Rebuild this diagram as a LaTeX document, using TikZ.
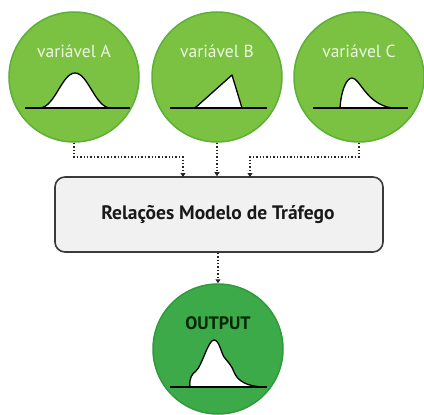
\documentclass[tikz,border=0pt]{standalone}
\usepackage{fontspec}
\setmainfont{PT Sans}
\usetikzlibrary{arrows.meta}
\definecolor{ingreen}{HTML}{7CC242}
\definecolor{inborder}{HTML}{5BB035}
\definecolor{outgreen}{HTML}{3DAA4A}
\definecolor{outborder}{HTML}{2F9A3C}
\definecolor{boxfill}{HTML}{F1F1F1}
\definecolor{boxdraw}{HTML}{3A3A3A}
\definecolor{vartext}{HTML}{EEF7E4}
\tikzset{
  invar/.style={circle, fill=ingreen, draw=inborder, line width=1.5pt, minimum size=130pt, inner sep=0pt},
  outvar/.style={circle, fill=outgreen, draw=outborder, line width=1.5pt, minimum size=130pt, inner sep=0pt},
  mainbox/.style={rectangle, rounded corners=10pt, fill=boxfill, draw=boxdraw, line width=1.6pt, minimum width=328pt, minimum height=75pt, inner sep=0pt},
  vlabel/.style={text=vartext, font=\fontsize{17.5}{17.5}\selectfont},
  conn/.style={draw=black!85, line width=1.4pt, dotted, -{Triangle[width=5pt,length=4pt]}},
  base/.style={line width=1.6pt, black},
  curve/.style={line width=1.3pt, black, fill=white, line join=round},
}
\begin{document}
\begin{tikzpicture}[x=1pt,y=-1pt]
\useasboundingbox (0,0) rectangle (424,415);
% circles
\node[invar] (A) at (74,77) {};
\node[invar] (B) at (217,77) {};
\node[invar] (C) at (359,77) {};
\node[mainbox] (M) at (219,214.5) {};
\node[outvar] (O) at (218,349) {};
% labels
\node[vlabel] (la) at (74,51) {variável A};
\node[vlabel] (lb) at (217,51) {variável B};
\node[vlabel] (lc) at (359,51) {variável C};
\node[font=\fontsize{19.5}{19.5}\selectfont\bfseries, text=black!90] (lm) at (218,215) {Relações Modelo de Tráfego};
\node[font=\fontsize{18}{18}\selectfont\bfseries, text=black!85!green] (lo) at (218,323) {OUTPUT};
% distributions
% A: gaussian
\draw[curve] (40,108) .. controls (55,107) and (62,73) .. (75,73) .. controls (88,73) and (95,107) .. (110,108) -- cycle;
\draw[base] (25,108) -- (130,108);
% B: triangle
\draw[curve] (195,108) -- (232,75) -- (242,108) -- cycle;
\draw[base] (170,108) -- (267,108);
% C: skewed
\draw[curve] (340,108) .. controls (341,92) and (346,78) .. (352,78) .. controls (360,78) and (366,104) .. (392,108) -- cycle;
\draw[base] (313,108) -- (408,108);
% Output
\draw[curve] (190,387) .. controls (189,378) and (192,374) .. (196,371)
  .. controls (202,366) and (208,340) .. (214,340)
  .. controls (219,340) and (221,352) .. (224,357)
  .. controls (228,362) and (232,366) .. (234,372)
  .. controls (238,382) and (248,386) .. (262,387) -- cycle;
\draw[base] (170,387) -- (267,387);
% connectors
\coordinate (ja) at (74,157);
\coordinate (jc) at (359,157);
\draw[conn] (A.south) -- (ja) -- (183,157) -- (183,177);
\draw[conn] (B.south) -- (B.south |- M.north);
\draw[conn] (C.south) -- (jc) -- (250,157) -- (250,177);
\draw[conn] (M.south -| O.north) -- (O.north);
\end{tikzpicture}
\end{document}
